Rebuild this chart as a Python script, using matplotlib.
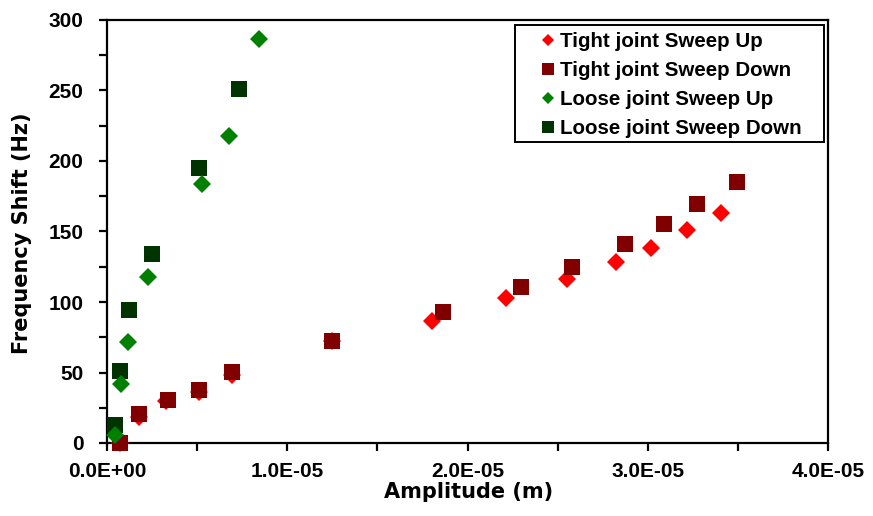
import matplotlib
matplotlib.use("Agg")
import matplotlib.pyplot as plt
from matplotlib.patches import Rectangle
from matplotlib.ticker import MultipleLocator, FuncFormatter

plt.rcParams['font.family'] = ['Liberation Sans', 'DejaVu Sans']
plt.rcParams['font.weight'] = 'bold'

# Tight joint, sweep up
tight_up_amp = [0.7e-6, 1.8e-6, 3.3e-6, 5.1e-6, 6.94e-6, 12.5e-6,
                18.05e-6, 22.14e-6, 25.5e-6, 28.24e-6, 30.18e-6, 32.2e-6, 34.04e-6]
tight_up_shift = [0, 18.5, 30, 36, 48, 72,
                  86.5, 102.6, 116.1, 128.4, 138.1, 151, 163.3]

# Tight joint, sweep down
tight_down_amp = [0.72e-6, 1.79e-6, 3.37e-6, 5.12e-6, 6.94e-6, 12.47e-6,
                  18.62e-6, 22.95e-6, 25.78e-6, 28.72e-6, 30.92e-6, 32.73e-6, 34.93e-6]
tight_down_shift = [0, 20.3, 30.5, 37.6, 50.1, 72.6,
                    92.7, 110.4, 124.6, 141.1, 155.6, 169.5, 185.3]

# Loose joint, sweep up
loose_up_amp = [0.44e-6, 0.76e-6, 1.18e-6, 2.26e-6, 5.29e-6, 6.79e-6, 8.43e-6]
loose_up_shift = [6, 41.6, 71.6, 117.7, 184, 217.7, 286.5]

# Loose joint, sweep down
loose_down_amp = [0.44e-6, 0.72e-6, 1.22e-6, 2.51e-6, 5.12e-6, 7.32e-6]
loose_down_shift = [12.8, 51.3, 94, 134, 195, 251]

W, H = 873, 516
fig = plt.figure(figsize=(W / 100, H / 100), dpi=100)
ax = fig.add_axes([107 / W, 1 - 443 / H, (828 - 107) / W, (443 - 20) / H])

ax.plot(tight_up_amp, tight_up_shift, linestyle='none', marker='D', ms=9,
        mew=0, color='#ff0000', label='Tight joint Sweep Up', clip_on=False, zorder=3)
ax.plot(tight_down_amp, tight_down_shift, linestyle='none', marker='s', ms=12,
        mew=0, color='#800000', label='Tight joint Sweep Down', clip_on=False, zorder=4)
ax.plot(loose_up_amp, loose_up_shift, linestyle='none', marker='D', ms=9,
        mew=0, color='#008000', label='Loose joint Sweep Up', clip_on=False, zorder=6)
ax.plot(loose_down_amp, loose_down_shift, linestyle='none', marker='s', ms=12,
        mew=0, color='#003300', label='Loose joint Sweep Down', clip_on=False, zorder=5)

ax.set_xlim(0, 4e-5)
ax.set_ylim(0, 300)

ax.xaxis.set_major_locator(MultipleLocator(1e-5))
ax.xaxis.set_minor_locator(MultipleLocator(5e-6))
ax.yaxis.set_major_locator(MultipleLocator(50))
ax.yaxis.set_minor_locator(MultipleLocator(25))
ax.xaxis.set_major_formatter(FuncFormatter(lambda v, p: f"{v:.1E}"))

for s in ax.spines.values():
    s.set_linewidth(1.6)
    s.set_color('black')

ax.tick_params(which='both', direction='out', length=6, width=1.6, color='black',
               top=False, right=False, labelsize=15)
ax.tick_params(axis='x', pad=8)
ax.tick_params(axis='y', pad=11)
for lbl in ax.get_xticklabels() + ax.get_yticklabels():
    lbl.set_fontweight('bold')

label_font = {'family': 'DejaVu Sans', 'weight': 'bold', 'size': 15}
ax.set_xlabel('Amplitude (m)', fontdict=label_font)
ax.set_ylabel('Frequency Shift (Hz)', fontdict=label_font)
ax.xaxis.set_label_coords((469 - 107) / 721, (443 - 482) / 423)
ax.yaxis.set_label_coords((32 - 107) / 721, 0.497)

leg = ax.legend(loc='upper left', bbox_to_anchor=(538 / W, 1 - 32 / H),
                bbox_transform=fig.transFigure, markerscale=0.72,
                handlelength=1.0, handletextpad=0.05, labelspacing=0.49,
                borderpad=0, borderaxespad=0, frameon=False,
                prop={'family': 'Liberation Sans', 'weight': 'bold', 'size': 14.8})

# legend box outline
fig.patches.append(Rectangle((515 / W, 1 - 142 / H), (824 - 515) / W, (142 - 25) / H,
                             transform=fig.transFigure, fill=False,
                             edgecolor='black', linewidth=1.4, zorder=10))

fig.savefig('out.png', dpi=100)
